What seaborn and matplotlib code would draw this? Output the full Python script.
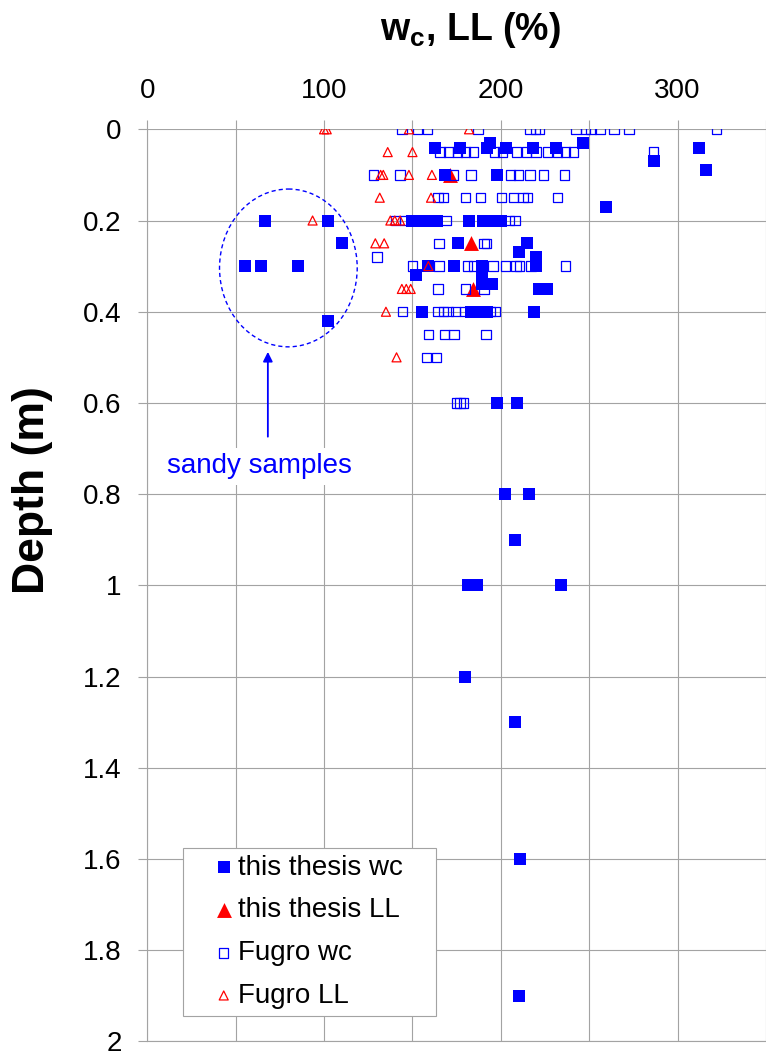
import numpy as np
import pandas as pd
import matplotlib
matplotlib.use("Agg")
import matplotlib.pyplot as plt
from matplotlib.patches import Ellipse
import seaborn as sns

# ---------------- data ----------------
# this thesis: water content (filled blue squares)
thesis_wc = [66.5, 102, 110, 55, 64.5, 85, 102,
             162.5, 177, 192, 194, 203, 218, 231, 246.5, 312, 286.5, 316, 259.5,
             168.5, 198,
             150, 155, 160, 164, 182, 190, 195, 200,
             175.5, 215, 210.5, 220,
             159, 173.5, 189.5, 220, 152, 189.5, 189.5, 195,
             221.5, 226,
             155.5, 183, 188, 192, 219,
             198, 209, 202.5, 216, 208, 181.5, 186.5, 234, 179.5, 208, 211, 210.5]
thesis_wc_depth = [0.2, 0.2, 0.25, 0.3, 0.3, 0.3, 0.42,
                   0.04, 0.04, 0.04, 0.03, 0.04, 0.04, 0.04, 0.03, 0.04, 0.07, 0.09, 0.17,
                   0.1, 0.1,
                   0.2, 0.2, 0.2, 0.2, 0.2, 0.2, 0.2, 0.2,
                   0.25, 0.25, 0.27, 0.28,
                   0.3, 0.3, 0.3, 0.3, 0.32, 0.32, 0.34, 0.34,
                   0.35, 0.35,
                   0.4, 0.4, 0.4, 0.4, 0.4,
                   0.6, 0.6, 0.8, 0.8, 0.9, 1.0, 1.0, 1.0, 1.2, 1.3, 1.6, 1.9]

# this thesis: liquid limit (filled red triangles)
thesis_ll = [171.5, 183, 184.5]
thesis_ll_depth = [0.1, 0.25, 0.35]

# Fugro: water content (open blue squares)
fugro_wc = [144, 153, 158.5, 187, 216.5, 219.5, 222, 242.5, 248, 251, 256, 264, 272.5, 322,
            165.5, 170.5, 175.5, 180, 184.5, 196.5, 201, 209, 214.5, 220, 226.5, 232, 236.5, 241, 286.5,
            128, 143, 173, 183, 205.5, 210, 216.5, 224, 236,
            164.5, 167.5, 180, 188.5, 200.5, 207, 212.5, 215, 232,
            140.5, 145.5, 169, 205, 208,
            165, 190.5, 192,
            130,
            150, 165, 181, 184.5, 195.5, 202.5, 208.5, 210.5, 217, 236.5,
            164.5, 180, 190.5,
            144.5, 164.5, 167.5, 170, 174.5, 179.5, 194, 197,
            159, 168, 173.5, 191.5,
            158, 163.5,
            175, 177, 179]
fugro_wc_depth = [0.0] * 14 + [0.05] * 15 + [0.1] * 9 + [0.15] * 9 + [0.2] * 5 + \
                 [0.25] * 3 + [0.28] * 1 + [0.3] * 10 + [0.35] * 3 + [0.4] * 8 + \
                 [0.45] * 4 + [0.5] * 2 + [0.6] * 3

# Fugro: liquid limit (open red triangles)
fugro_ll = [100, 101.5, 148, 182,
            136, 150,
            132, 133.5, 148, 161,
            131.5, 160.5,
            93.5, 137.5, 140, 143,
            129, 134,
            159,
            144, 146.5, 149,
            135,
            141]
fugro_ll_depth = [0.0] * 4 + [0.05] * 2 + [0.1] * 4 + [0.15] * 2 + [0.2] * 4 + \
                 [0.25] * 2 + [0.3] * 1 + [0.35] * 3 + [0.4] * 1 + [0.5] * 1

series_labels = ["this thesis wc", "this thesis LL", "Fugro wc", "Fugro LL"]
x_ticks = [0, 100, 200, 300]
x_minor = [50, 150, 250, 350]
y_ticks = [0, 0.2, 0.4, 0.6, 0.8, 1.0, 1.2, 1.4, 1.6, 1.8, 2.0]
y_ticklabels = ["0", "0.2", "0.4", "0.6", "0.8", "1", "1.2", "1.4", "1.6", "1.8", "2"]

# ---------------- style ----------------
sns.set_style("white")
plt.rcParams["font.family"] = ["Liberation Sans", "DejaVu Sans"]
plt.rcParams["mathtext.fontset"] = "custom"
plt.rcParams["mathtext.rm"] = "Liberation Sans"
plt.rcParams["mathtext.bf"] = "Liberation Sans:bold"
plt.rcParams["mathtext.it"] = "Liberation Sans:italic"
plt.rcParams["text.color"] = "black"
plt.rcParams["axes.labelcolor"] = "black"
plt.rcParams["xtick.color"] = "black"
plt.rcParams["ytick.color"] = "black"

GRID = "#a3a3a3"
BLUE = "#0000ff"
RED = "#ff0000"

fig = plt.figure(figsize=(7.66, 10.52), dpi=100)
ax = fig.add_axes([0.1923, 0.0100, 0.8077, 0.8671])

df_twc = pd.DataFrame({"wc": thesis_wc, "depth": thesis_wc_depth})
df_tll = pd.DataFrame({"wc": thesis_ll, "depth": thesis_ll_depth})
df_fwc = pd.DataFrame({"wc": fugro_wc, "depth": fugro_wc_depth})
df_fll = pd.DataFrame({"wc": fugro_ll, "depth": fugro_ll_depth})

sns.scatterplot(data=df_tll, x="wc", y="depth", ax=ax, marker="^", s=115,
                color=RED, edgecolor=RED, linewidth=0, label=series_labels[1],
                zorder=3, legend=False)
sns.scatterplot(data=df_twc, x="wc", y="depth", ax=ax, marker="s", s=72,
                color=BLUE, edgecolor=BLUE, linewidth=0, label=series_labels[0],
                zorder=4, legend=False)
sns.scatterplot(data=df_fwc, x="wc", y="depth", ax=ax, marker="s", s=46,
                color=BLUE, facecolor="none", edgecolor=BLUE, linewidth=0.9,
                label=series_labels[2], zorder=5, legend=False)
sns.scatterplot(data=df_fll, x="wc", y="depth", ax=ax, marker="^", s=42,
                color=RED, facecolor="none", edgecolor=RED, linewidth=0.9,
                label=series_labels[3], zorder=6, legend=False)
if ax.get_legend() is not None:
    ax.get_legend().remove()

ax.set_xlim(0, 343.7)
ax.set_ylim(2, 0)

ax.xaxis.tick_top()
ax.xaxis.set_label_position("top")
ax.set_xticks(x_ticks)
ax.set_xticks(x_minor, minor=True)
ax.set_yticks(y_ticks)
ax.set_yticklabels(y_ticklabels)

ax.tick_params(axis="both", which="both", length=6.5, width=0.8, color=GRID,
               labelsize=20, pad=12, labelcolor="black")
ax.tick_params(axis="x", which="both", top=True, bottom=False)
ax.tick_params(axis="y", which="both", left=True, right=False)

ax.grid(True, which="both", color=GRID, linewidth=0.8)
ax.set_axisbelow(True)
for side in ["top", "right"]:
    ax.spines[side].set_visible(False)
for side in ["left", "bottom"]:
    ax.spines[side].set_color(GRID)
    ax.spines[side].set_linewidth(0.8)

ax.set_xlabel(r"$\mathbf{w}_\mathbf{c}$, LL (%)", fontsize=27, fontweight="bold",
              color="black")
ax.xaxis.set_label_coords(0.5216, 1.109)
ax.xaxis.label.set_va("center")
ax.set_ylabel("Depth (m)", fontsize=32, fontweight="bold", color="black")
ax.yaxis.set_label_coords(-0.1860, 0.6046)
ax.yaxis.label.set_va("center")

# annotation: sandy samples
ax.add_patch(Ellipse((79.8, 0.304), 77.9, 0.346, fill=False, edgecolor=BLUE,
                     linewidth=1.0, linestyle=(0, (3.0, 2.2)), zorder=2))
ax.annotate("", xy=(68.2, 0.488), xytext=(68.2, 0.674),
            arrowprops=dict(arrowstyle="-|>", color=BLUE, lw=1.3,
                            mutation_scale=14, shrinkA=0, shrinkB=0), zorder=2)
ax.text(63.3, 0.739, "sandy samples", color=BLUE, fontsize=20, ha="center",
        va="center", bbox=dict(boxstyle="square,pad=0.2", fc="white", ec="none"),
        zorder=2)

# legend
handles, labels = ax.get_legend_handles_labels()
order = [labels.index(l) for l in series_labels]
x0 = 183.3 / 766
y0 = 1 - 1015.7 / 1052
w = (435.7 - 183.3) / 766
h = (1015.7 - 845.7) / 1052
leg = fig.legend([handles[i] for i in order], [labels[i] for i in order],
                 loc="lower left", bbox_to_anchor=(x0, y0, w, h),
                 bbox_transform=fig.transFigure, mode="expand", borderaxespad=0,
                 fontsize=20, frameon=True, fancybox=False, framealpha=1,
                 edgecolor=GRID, borderpad=0.25, labelspacing=0.60,
                 handlelength=2.41, handletextpad=-0.70)
leg.get_frame().set_linewidth(0.8)
for t in leg.get_texts():
    t.set_color("black")

fig.savefig("out.png", dpi=100)
